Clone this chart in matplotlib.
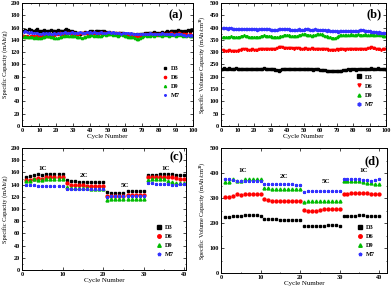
import matplotlib
matplotlib.use("Agg")
import matplotlib.pyplot as plt
from matplotlib.ticker import MultipleLocator

plt.rcParams['font.family'] = ['Liberation Serif', 'DejaVu Serif']
plt.rcParams['font.weight'] = 'bold'

names = ['D3', 'D6', 'D9', 'M7']
colors = ['black', 'red', '#00bb00', '#3333ff']

# (a) specific capacity, 100 cycles
a_D3 = [155,156,155,157,156,154,155,156,157,155, 155,154,156,155,154,155,156,155,154,155,
        156,155,154,155,156,157,156,155,154,153, 153,152,151,150,151,152,153,152,153,154,
        154,153,154,155,154,153,154,155,153,152, 153,152,151,152,151,150,151,152,151,150,
        150,149,149,148,149,148,149,148,149,150, 150,151,152,152,151,152,153,152,151,152,
        152,153,152,153,154,153,154,155,154,155, 156,155,154,153,154,155,156,155,156,156]
a_D6 = [146,145,146,145,146,147,146,145,146,145, 146,147,148,147,146,147,148,147,148,149,
        150,151,150,149,150,151,152,151,150,151, 150,149,150,151,152,151,152,151,150,151,
        151,152,151,150,151,152,151,152,151,150, 151,152,151,150,151,150,151,150,150,149,
        149,148,149,148,147,148,147,148,147,148, 148,149,148,149,148,149,150,149,148,149,
        149,150,149,150,149,150,151,150,149,150, 150,151,150,149,150,149,148,149,148,147]
a_D9 = [145,146,145,144,145,144,143,144,143,143, 143,144,145,146,147,146,145,144,143,143,
        143,144,145,146,147,148,147,146,147,146, 146,145,144,144,143,144,145,146,147,148,
        148,147,148,147,146,147,148,149,148,149, 150,149,148,149,148,147,148,149,148,147,
        146,145,144,145,144,143,142,142,143,145, 147,148,147,148,147,148,147,148,149,148,
        148,147,148,149,148,147,148,149,148,147, 148,149,148,147,148,147,148,147,146,147]
a_M7 = [153,154,153,152,153,152,151,152,151,150, 150,151,150,151,150,151,150,150,151,150,
        151,150,151,152,153,152,151,152,153,152, 152,151,152,153,152,151,152,153,152,153,
        152,153,152,151,152,153,152,151,152,153, 153,152,153,152,151,152,151,150,151,152,
        152,151,150,151,150,149,150,149,150,149, 149,150,149,150,151,150,149,150,149,150,
        150,151,150,149,150,149,150,149,148,149, 149,150,149,148,148,147,148,147,148,147]

# (b) specific volume capacity, 100 cycles
b_D3 = [233,234,232,233,234,233,232,233,234,233, 232,233,231,232,233,232,233,232,231,232,
        233,232,231,232,233,234,233,232,231,230, 231,230,229,226,222,228,230,231,232,231,
        232,231,230,231,232,231,230,231,232,231, 230,231,232,231,230,229,230,231,230,229,
        228,227,226,225,224,225,224,223,224,223, 222,223,225,227,228,229,230,229,230,231,
        230,229,230,231,232,231,232,233,232,233, 234,233,232,233,234,233,232,233,232,233]
b_D6 = [307,306,305,306,307,305,304,305,306,305, 307,309,311,312,311,310,309,310,311,310,
        309,310,311,313,314,313,312,313,314,315, 314,313,315,318,320,321,320,319,318,317,
        316,317,316,315,316,317,316,315,314,315, 316,315,314,315,316,315,314,313,314,313,
        312,313,312,311,310,309,310,309,310,311, 310,311,312,311,310,311,312,313,314,313,
        314,315,314,313,314,315,314,315,316,318, 320,319,317,315,313,311,310,311,312,313]
b_D9 = [363,362,361,362,363,364,363,362,361,360, 362,364,366,368,367,365,363,362,361,360,
        360,361,363,365,367,368,367,366,365,364, 363,362,361,362,363,365,367,369,370,369,
        368,367,366,365,366,367,368,370,372,374, 373,371,369,368,367,368,370,372,374,375,
        372,369,366,364,362,360,359,358,357,360, 365,368,370,371,370,369,370,371,372,371,
        370,371,372,371,370,371,372,371,370,371, 372,371,370,371,372,371,369,367,366,365]
b_M7 = [397,398,397,396,397,398,396,395,394,393, 393,394,393,394,395,394,393,394,395,394,
        393,392,393,394,395,396,395,394,393,392, 391,390,391,392,393,394,395,396,395,394,
        393,392,391,390,391,392,393,392,391,392, 393,394,393,392,391,392,393,392,391,390,
        391,390,389,388,389,388,387,386,385,385, 384,385,386,387,386,385,386,387,388,387,
        386,387,388,389,390,389,388,387,386,385, 384,383,382,381,380,381,380,379,378,378]

# (c) rate capability, 40 cycles (1C, 2C, 5C, 1C)
c_D3 = [153,154,156,157,156,157,157,157,157,157, 148,146,146,145,145,145,145,145,145,145,
        128,127,127,127,127,129,130,130,130,130, 155,155,156,157,157,157,157,156,155,155]
c_D6 = [148,148,150,151,150,152,152,152,152,152, 142,140,139,139,139,138,138,138,138,138,
        122,122,122,122,122,123,123,123,123,123, 152,152,153,153,153,153,152,151,150,150]
c_D9 = [146,146,149,148,148,150,150,150,150,150, 136,135,135,134,134,134,133,133,133,133,
        114,116,117,117,117,117,117,117,116,116, 147,149,149,149,149,146,144,143,143,143]
c_M7 = [140,140,139,138,138,137,137,138,138,137, 133,133,132,132,132,132,132,132,132,132,
        120,121,121,121,121,121,121,121,121,121, 142,142,141,141,141,141,140,140,141,141]

# (d) volume rate capability, 40 cycles
d_D3 = [225,225,228,230,230,232,232,232,232,230, 218,216,215,215,214,214,214,214,214,214,
        188,188,187,187,187,190,191,191,191,190, 230,228,230,230,231,232,230,229,228,228]
d_D6 = [306,306,310,315,312,315,315,316,316,316, 297,291,290,290,290,289,289,289,289,289,
        253,250,250,250,252,256,258,258,258,258, 318,318,320,321,321,322,320,318,316,315]
d_D9 = [365,365,375,370,368,375,375,376,375,375, 342,340,338,337,337,336,336,336,336,336,
        286,288,289,290,290,290,290,290,290,290, 368,370,370,370,370,365,362,360,357,355]
d_M7 = [375,376,372,370,370,370,370,370,370,370, 355,357,355,355,355,355,355,355,354,354,
        326,327,328,328,328,328,328,328,327,327, 378,378,376,375,375,373,372,370,372,375]

rate_labels = ['1C', '2C', '5C', '1C']
c_rate_pos = [(5, 167), (15.4, 155), (25.4, 139), (35.5, 167)]
d_rate_pos = [(5.5, 408), (16, 388), (26.5, 366), (36, 408)]

W, H = 392, 292
fig = plt.figure(figsize=(W / 100, H / 100), dpi=100)


def make_ax(l, r, t, b):
    return fig.add_axes([l / W, (H - b) / H, (r - l) / W, (b - t) / H])


def style(ax, xmax, xstep, ymax, ystep, ylabel, tag, tagpos):
    ax.set_xlim(0, xmax)
    ax.set_ylim(0, ymax)
    ax.xaxis.set_major_locator(MultipleLocator(xstep))
    ax.xaxis.set_minor_locator(MultipleLocator(xstep / 2))
    ax.yaxis.set_major_locator(MultipleLocator(ystep))
    ax.yaxis.set_minor_locator(MultipleLocator(ystep / 2))
    ax.tick_params(which='both', direction='in', top=True, right=True,
                   labelsize=4.5, width=0.5, pad=1.5)
    ax.tick_params(which='major', length=2)
    ax.tick_params(which='minor', length=1)
    for s in ax.spines.values():
        s.set_linewidth(0.7)
    ax.set_xlabel('Cycle Number', fontsize=5, labelpad=1)
    ax.set_ylabel(ylabel, fontsize=4.5, labelpad=1.5)
    ax.text(tagpos[0], tagpos[1], tag, transform=ax.transAxes, fontsize=9,
            fontweight='bold', ha='center', va='center')


def legend(ax, pos, scale=1.0):
    ax.legend(loc='lower left', bbox_to_anchor=pos, frameon=False, fontsize=4.5,
              handletextpad=0.4, labelspacing=0.6, handlelength=1, borderpad=0,
              markerscale=scale)


cap = 'Specific Capacity (mAh/g)'
vol = 'Specific Volume Capacity (mAh/cm$^3$)'

# (a)
ax = make_ax(22, 193, 3, 126)
cyc = list(range(1, 101))
for ser, nm, c, m in zip([a_D3, a_D6, a_D9, a_M7], names, colors, ['s', 'o', '^', '*']):
    ax.plot(cyc, ser, ls='none', marker=m, ms=1.6, color=c, label=nm)
style(ax, 100, 10, 200, 20, cap, '(a)', (0.9, 0.9))
legend(ax, (0.8, 0.2))

# (b)
ax = make_ax(221, 386, 3, 126)
for ser, nm, c, m in zip([b_D3, b_D6, b_D9, b_M7], names, colors, ['s', 'v', '^', 'h']):
    ax.plot(cyc, ser, ls='none', marker=m, ms=1.6, color=c, label=nm)
style(ax, 100, 10, 500, 50, vol, '(b)', (0.93, 0.91))
legend(ax, (0.8, 0.13), 1.4)

# (c)
ax = make_ax(22, 186, 148, 270)
cyc = list(range(1, 41))
for ser, nm, c, m in zip([c_D3, c_D6, c_D9, c_M7], names, colors, ['s', 'o', '^', '*']):
    ax.plot(cyc, ser, ls='none', marker=m, ms=2.1, color=c, label=nm)
for lab, (x, y) in zip(rate_labels, c_rate_pos):
    ax.text(x, y, lab, fontsize=5, ha='center', va='center')
style(ax, 40.4, 10, 200, 20, cap, '(c)', (0.94, 0.92))
legend(ax, (0.8, 0.08), 1.2)

# (d)
ax = make_ax(221, 387, 148, 273)
for ser, nm, c, m in zip([d_D3, d_D6, d_D9, d_M7], names, colors, ['s', 'o', '^', '*']):
    ax.plot(cyc, ser, ls='none', marker=m, ms=2.1, color=c, label=nm)
for lab, (x, y) in zip(rate_labels, d_rate_pos):
    ax.text(x, y, lab, fontsize=5, ha='center', va='center')
style(ax, 42, 10, 500, 100, vol, '(d)', (0.91, 0.89))
legend(ax, (0.8, 0.1), 1.2)

fig.savefig('out.png', dpi=100)
